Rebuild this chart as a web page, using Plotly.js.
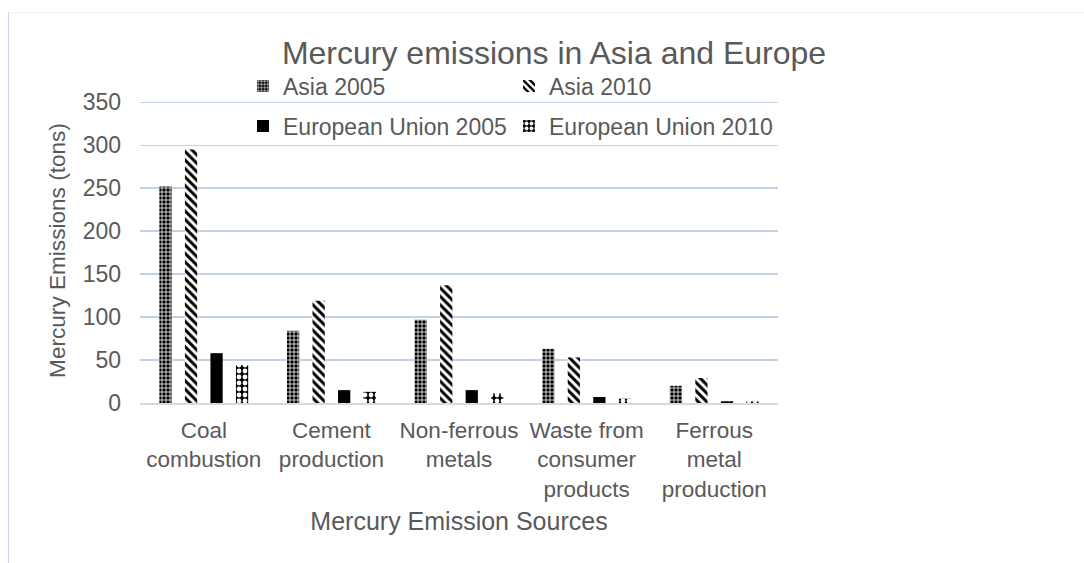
<!DOCTYPE html>
<html><head><meta charset="utf-8">
<script src="https://cdn.plot.ly/plotly-3.0.1.min.js"></script>
<style>
html,body{margin:0;padding:0;background:#fff;}
#wrap{position:relative;width:1084px;height:563px;}
#chart{position:absolute;left:0;top:0;width:1084px;height:563px;}
#frame{position:absolute;left:8px;top:12px;width:1076px;height:551px;border-left:1px solid #c6d3e6;border-top:1px solid #f2f2f2;pointer-events:none;}
</style></head>
<body><div id="wrap"><div id="chart"></div><div id="frame"></div></div>
<script>
const categories = ["Coal<br>combustion","Cement<br>production","Non-ferrous<br>metals","Waste from<br>consumer<br>products","Ferrous<br>metal<br>production"];
const asia2005 = [252, 84, 97, 63, 20];
const asia2010 = [295, 119, 137, 53, 29];
const eu2005 = [58, 15, 15, 7, 2];
const eu2010 = [44, 13, 11, 5, 2];
const seriesNames = ["Asia 2005","Asia 2010","European Union 2005","European Union 2010"];
const yTicks = [0,50,100,150,200,250,300,350];

const txt = '#595959';
const font = 'Liberation Sans, Arial, sans-serif';
const traces = [
  {name: seriesNames[0], x: categories, y: asia2005, type:'bar', legend:'legend',
   marker:{color:'#000', line:{width:0}, pattern:{shape:'+', bgcolor:'#000', fgcolor:'#fff', size:4, solidity:0.35}}},
  {name: seriesNames[1], x: categories, y: asia2010, type:'bar', legend:'legend',
   marker:{color:'#000', line:{width:0}, pattern:{shape:'\\', bgcolor:'#fff', fgcolor:'#000', size:6, solidity:0.5}}},
  {name: seriesNames[2], x: categories, y: eu2005, type:'bar', legend:'legend2',
   marker:{color:'#000', line:{width:0}}},
  {name: seriesNames[3], x: categories, y: eu2010, type:'bar', legend:'legend2',
   marker:{color:'#000', line:{width:0}, pattern:{shape:'.', bgcolor:'#000', fgcolor:'#fff', size:6, solidity:0.5}}}
];
const legendBase = {orientation:'h', xref:'container', yref:'container', x:243/1084, xanchor:'left',
  yanchor:'middle', font:{size:23, color:txt, family:font}, entrywidth:221, bgcolor:'rgba(0,0,0,0)',
  borderwidth:0, itemwidth:30, traceorder:'normal'};
const layout = {
  width:1084, height:563,
  margin:{l:140, r:306, t:98, b:160, autoexpand:false},
  paper_bgcolor:'#fff', plot_bgcolor:'#fff',
  font:{family:font, color:txt, size:23},
  title:{text:'Mercury emissions in Asia and Europe', font:{size:32, color:txt, family:font},
         x:554/1084, xref:'container', xanchor:'center', y:1-53/563, yref:'container', yanchor:'middle'},
  barmode:'group', bargap:0.2, bargroupgap:0.52,
  xaxis:{title:{text:'Mercury Emission Sources', font:{size:25, color:txt}, standoff:12},
         tickfont:{size:22.5, color:txt}, showline:true, linecolor:'#d9d9d9', linewidth:2,
         ticks:'', showgrid:false, ticklabelstandoff:6},
  yaxis:{title:{text:'Mercury Emissions (tons)', font:{size:22.6, color:txt}, standoff:10},
         range:[0,355], tickvals:yTicks, ticktext:yTicks.map(String),
         tickfont:{size:23, color:txt}, showgrid:true, gridcolor:'#c3d1e8', gridwidth:1.5,
         zeroline:false, showline:false, ticks:'', ticklabelstandoff:18},
  legend: Object.assign({}, legendBase, {y:1-86/563}),
  legend2: Object.assign({}, legendBase, {y:1-126/563}),
  showlegend:true
};
Plotly.newPlot('chart', traces, layout, {displayModeBar:false, staticPlot:true});
</script></body></html>
